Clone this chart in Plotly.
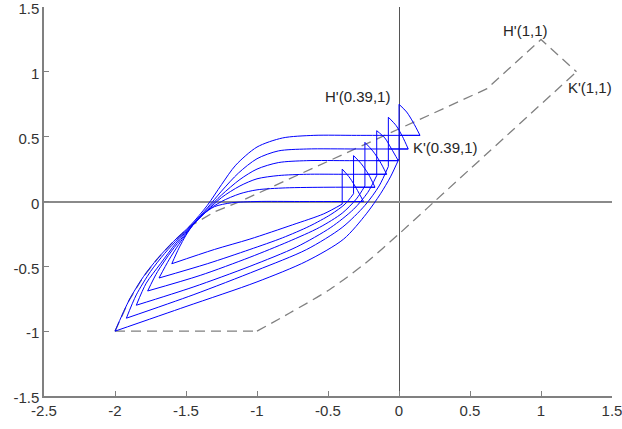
import plotly.graph_objects as go

# ---------------- data ----------------
# loop right-end points: H (apex) and K (plateau end)
H_x = [0.0, -0.075, -0.157, -0.24, -0.32, -0.40]
H_y = [0.75, 0.65, 0.546, 0.456, 0.354, 0.25]
K_x = [0.148, 0.065, -0.005, -0.087, -0.169, -0.25]
K_y = [0.51, 0.405, 0.315, 0.21, 0.11, 0.0]

# upper (loading) branches: tip -> plateau -> K
upper_x = [
    [-2.0, -1.9, -1.8, -1.7, -1.59, -1.47, -1.35, -1.25, -1.15, -1.0, -0.82, -0.6, -0.3, 0.148],
    [-1.92, -1.85, -1.75, -1.65, -1.55, -1.45, -1.35, -1.25, -1.13, -1.0, -0.85, -0.65, -0.3, 0.065],
    [-1.85, -1.78, -1.68, -1.57, -1.45, -1.35, -1.25, -1.12, -1.0, -0.85, -0.65, -0.35, -0.005],
    [-1.77, -1.70, -1.60, -1.52, -1.45, -1.35, -1.25, -1.12, -1.0, -0.85, -0.65, -0.4, -0.087],
    [-1.69, -1.62, -1.55, -1.45, -1.36, -1.25, -1.12, -1.0, -0.8, -0.5, -0.169],
    [-1.6, -1.55, -1.5, -1.45, -1.38, -1.3, -1.18, -1.0, -0.7, -0.25],
]
upper_y = [
    [-1.0, -0.76, -0.58, -0.44, -0.31, -0.185, -0.03, 0.13, 0.28, 0.42, 0.49, 0.51, 0.51, 0.51],
    [-0.90, -0.72, -0.54, -0.40, -0.28, -0.17, -0.05, 0.08, 0.22, 0.33, 0.39, 0.405, 0.405, 0.405],
    [-0.80, -0.63, -0.48, -0.32, -0.175, -0.06, 0.05, 0.17, 0.25, 0.30, 0.315, 0.315, 0.315],
    [-0.69, -0.54, -0.38, -0.27, -0.18, -0.07, 0.03, 0.12, 0.175, 0.20, 0.21, 0.21, 0.21],
    [-0.59, -0.45, -0.33, -0.18, -0.08, 0.0, 0.06, 0.09, 0.105, 0.11, 0.11],
    [-0.48, -0.36, -0.26, -0.18, -0.1, -0.04, -0.01, 0.0, 0.0, 0.0],
]

# arcs K -> H
arc_x = [
    [0.148, 0.10, 0.054, 0.0],
    [0.065, 0.025, -0.02, -0.075],
    [-0.005, -0.055, -0.10, -0.157],
    [-0.087, -0.135, -0.185, -0.24],
    [-0.169, -0.215, -0.265, -0.32],
    [-0.25, -0.30, -0.345, -0.40],
]
arc_y = [
    [0.51, 0.61, 0.69, 0.75],
    [0.405, 0.50, 0.585, 0.65],
    [0.315, 0.41, 0.49, 0.546],
    [0.21, 0.31, 0.39, 0.456],
    [0.11, 0.21, 0.29, 0.354],
    [0.0, 0.10, 0.18, 0.25],
]

# lower (unloading) branches: bottom of vertical -> tip
lower_x = [
    [0.0, -0.06, -0.13, -0.23, -0.39, -0.65, -1.0, -1.5, -2.0],
    [-0.075, -0.14, -0.24, -0.4, -0.65, -1.0, -1.45, -1.92],
    [-0.157, -0.22, -0.32, -0.48, -0.72, -1.05, -1.45, -1.85],
    [-0.24, -0.30, -0.40, -0.56, -0.78, -1.05, -1.4, -1.77],
    [-0.32, -0.38, -0.48, -0.63, -0.82, -1.05, -1.35, -1.69],
    [-0.40, -0.53, -0.75, -1.05, -1.3, -1.6],
]
lower_y = [
    [0.33, 0.19, 0.06, -0.095, -0.29, -0.46, -0.62, -0.81, -1.0],
    [0.27, 0.12, -0.03, -0.2, -0.37, -0.53, -0.72, -0.90],
    [0.2, 0.07, -0.06, -0.2, -0.35, -0.50, -0.66, -0.80],
    [0.12, 0.02, -0.09, -0.2, -0.31, -0.43, -0.57, -0.69],
    [0.06, -0.02, -0.1, -0.19, -0.28, -0.37, -0.48, -0.59],
    [-0.02, -0.095, -0.18, -0.29, -0.37, -0.48],
]

# dashed envelope
env_up_x = [-2.0, -1.9, -1.8, -1.7, -1.59, -1.47, -1.3, -1.12, 0.62, 1.0, 1.25]
env_up_y = [-1.0, -0.76, -0.58, -0.44, -0.31, -0.19, -0.08, 0.0, 0.87, 1.25, 1.0]
env_flat_x = [-2.0, -1.0]
env_flat_y = [-1.0, -1.0]
env_curve_x = [-1.0, -0.77, -0.49, -0.23, 0.0, 0.25, 1.25]
env_curve_y = [-1.0, -0.86, -0.68, -0.47, -0.25, 0.0, 1.0]

labels = ["H'(1,1)", "K'(1,1)", "H'(0.39,1)", "K'(0.39,1)"]
label_x = [0.89, 1.345, -0.29, 0.33]
label_y = [1.315, 0.877, 0.81, 0.415]

xticks = [-2.5, -2, -1.5, -1, -0.5, 0, 0.5, 1, 1.5]
xtick_text = ["-2.5", "-2", "-1.5", "-1", "-0.5", "0", "0.5", "1", "1.5"]
yticks = [-1.5, -1, -0.5, 0, 0.5, 1, 1.5]
ytick_text = ["-1.5", "-1", "-0.5", "0", "0.5", "1", "1.5"]

# ---------------- figure ----------------
fig = go.Figure()
BLUE = "#0000ff"
DASH = dict(color="#808080", width=1.3, dash="10px,6px")

fig.add_trace(go.Scatter(x=env_up_x, y=env_up_y, mode="lines",
                         line=DASH, hoverinfo="skip"))
fig.add_trace(go.Scatter(x=env_flat_x, y=env_flat_y, mode="lines", line=DASH, hoverinfo="skip"))
fig.add_trace(go.Scatter(x=env_curve_x, y=env_curve_y, mode="lines",
                         line=dict(DASH, shape="spline", smoothing=0.8), hoverinfo="skip"))

SPL = dict(color=BLUE, width=1, shape="spline", smoothing=0.8)
LIN = dict(color=BLUE, width=1)
for i in range(len(H_x)):
    fig.add_trace(go.Scatter(x=upper_x[i], y=upper_y[i], mode="lines", line=SPL))
    fig.add_trace(go.Scatter(x=arc_x[i], y=arc_y[i], mode="lines", line=SPL))
    fig.add_trace(go.Scatter(x=[H_x[i], lower_x[i][0]], y=[H_y[i], lower_y[i][0]], mode="lines", line=LIN))
    fig.add_trace(go.Scatter(x=lower_x[i], y=lower_y[i], mode="lines", line=SPL))
    fig.add_trace(go.Scatter(x=[H_x[i], K_x[i]], y=[K_y[i], K_y[i]], mode="lines", line=LIN))

FONT = "Liberation Sans, Arial, Helvetica"
for t, x, y in zip(labels, label_x, label_y):
    fig.add_annotation(x=x, y=y, text=t, showarrow=False,
                       font=dict(family=FONT, size=15, color="#262626"))

tick_font = dict(family=FONT, size=15, color="#333333")
fig.update_layout(
    width=622, height=429,
    margin=dict(l=44, r=10, t=7, b=33),
    paper_bgcolor="white", plot_bgcolor="white",
    showlegend=False,
    xaxis=dict(range=[-2.5, 1.5], tickvals=xticks, ticktext=xtick_text, automargin=False,
               ticklabeloverflow="allow",
               ticks="inside", ticklen=5, tickcolor="#808080", showline=True, linecolor="#808080",
               linewidth=1.5, showgrid=False, zeroline=True, zerolinecolor="#555555", zerolinewidth=1,
               tickfont=tick_font),
    yaxis=dict(range=[-1.5, 1.5], tickvals=yticks, ticktext=ytick_text, automargin=False,
               ticklabeloverflow="allow", ticklabelshift=2,
               ticks="inside", ticklen=5, tickcolor="#808080", showline=True, linecolor="#808080",
               linewidth=1.5, showgrid=False, zeroline=True, zerolinecolor="#8a8a8a", zerolinewidth=2,
               tickfont=tick_font),
)

fig.write_html("out.html", config={"displayModeBar": False},
               post_script="document.body.style.margin='0';document.body.style.padding='0';")
